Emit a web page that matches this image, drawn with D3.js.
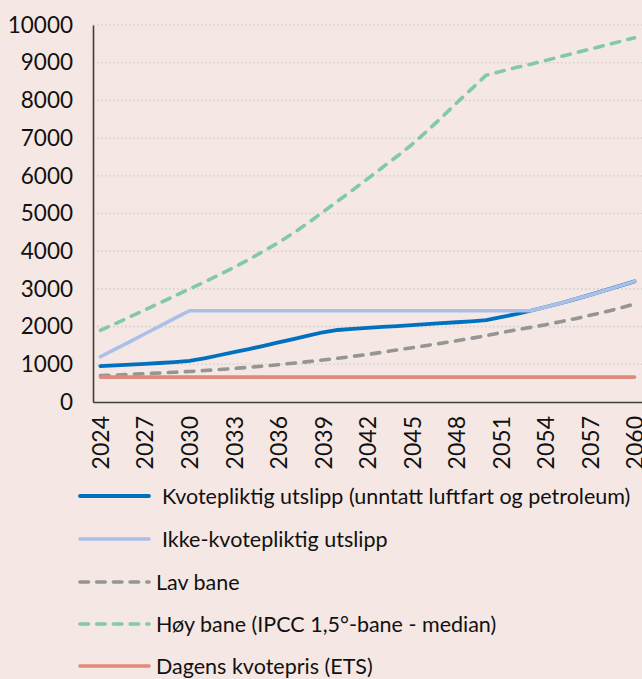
<!DOCTYPE html>
<html>
<head>
<meta charset="utf-8">
<script src="https://cdn.jsdelivr.net/npm/d3@7"></script>
<style>
  html, body { margin: 0; padding: 0; background: #f5e7e3; }
  svg { display: block; }
  text { font-family: Lato, "Noto Sans", sans-serif; fill: #111; }
</style>
</head>
<body>
<svg id="chart" width="642" height="679"></svg>
<script>
// Years on the category axis
const years = d3.range(2024, 2061);
const yearTicks = d3.range(2024, 2061, 3);
const yTicks = d3.range(0, 10001, 1000);

// Kvotepliktig utslipp (unntatt luftfart og petroleum)
const kvotepliktig = [950, 970, 990, 1010, 1035, 1060, 1090, 1160, 1240, 1320, 1400, 1490, 1580,
  1670, 1760, 1850, 1910, 1940, 1965, 1990, 2015, 2040, 2065, 2090, 2115, 2140, 2170,
  2250, 2330, 2420, 2520, 2620, 2730, 2840, 2960, 3080, 3200];
// Ikke-kvotepliktig utslipp
const ikkeKvotepliktig = [1200, 1400, 1600, 1810, 2010, 2220, 2420, 2420, 2420, 2420, 2420, 2420, 2420,
  2420, 2420, 2420, 2420, 2420, 2420, 2420, 2420, 2420, 2420, 2420, 2420, 2420, 2420,
  2420, 2420, 2420, 2520, 2620, 2730, 2840, 2960, 3080, 3200];
// Lav bane
const lavBane = [700, 715, 735, 750, 770, 790, 810, 835, 860, 890, 920, 955, 990,
  1030, 1070, 1115, 1160, 1210, 1260, 1320, 1380, 1440, 1500, 1560, 1625, 1690, 1760,
  1840, 1910, 1980, 2050, 2130, 2210, 2300, 2390, 2490, 2600];
// Høy bane (IPCC 1,5°-bane - median)
const hoyBane = [1900, 2080, 2260, 2440, 2630, 2810, 3000, 3180, 3370, 3570, 3780, 4000, 4230,
  4480, 4750, 5040, 5330, 5620, 5920, 6220, 6520, 6830, 7180, 7550, 7930, 8300, 8670,
  8770, 8870, 8960, 9060, 9160, 9260, 9360, 9460, 9560, 9660];
// Dagens kvotepris (ETS)
const dagensKvotepris = years.map(() => 660);

const seriesNames = [
  "Kvotepliktig utslipp (unntatt luftfart og petroleum)",
  "Ikke-kvotepliktig utslipp",
  "Lav bane",
  "Høy bane (IPCC 1,5°-bane - median)",
  "Dagens kvotepris (ETS)"
];
const seriesValues = [kvotepliktig, ikkeKvotepliktig, lavBane, hoyBane, dagensKvotepris];
const seriesColors = ["#0070c0", "#abc0e8", "#959595", "#82c9a5", "#df8a7a"];
const seriesDash = [null, null, "8.5,8.5", "8.5,8.5", null];
const seriesWidth = [3.8, 3.6, 3.6, 3.6, 3.6];

const svg = d3.select("#chart");
const plot = { left: 93, right: 642, top: 25, bottom: 402 };

const x = d3.scalePoint().domain(years).range([plot.left, plot.right]).padding(0.5);
const y = d3.scaleLinear().domain([0, 10000]).range([plot.bottom, plot.top]);

// Dotted horizontal gridlines
svg.append("g")
  .selectAll("line")
  .data(yTicks.filter(d => d > 0))
  .join("line")
  .attr("x1", plot.left).attr("x2", plot.right)
  .attr("y1", d => y(d)).attr("y2", d => y(d))
  .attr("stroke", "#d6d2d0")
  .attr("stroke-width", 1.6)
  .attr("stroke-dasharray", "1.6,2.4");

// Y axis
const yAxis = svg.append("g")
  .attr("transform", `translate(${plot.left},0)`)
  .call(d3.axisLeft(y).tickValues(yTicks).tickSize(0).tickPadding(20).tickFormat(d3.format("d")));
yAxis.select(".domain").attr("stroke", "#3d3d3d").attr("stroke-width", 1.6);
yAxis.selectAll("text")
  .style("font-family", "Lato, 'Noto Sans', sans-serif")
  .style("font-size", "22.5px")
  .attr("fill", "#111");

// X axis
const xAxis = svg.append("g")
  .attr("transform", `translate(0,${plot.bottom})`)
  .call(d3.axisBottom(x).tickValues(yearTicks).tickSize(0).tickFormat(d3.format("d")));
xAxis.select(".domain").attr("stroke", "#3d3d3d").attr("stroke-width", 1.6);
xAxis.selectAll("text")
  .style("font-family", "Lato, 'Noto Sans', sans-serif")
  .style("font-size", "23px")
  .attr("fill", "#111")
  .attr("text-anchor", "end")
  .attr("dy", "0.35em")
  .attr("transform", "translate(0,14) rotate(-90)")
  .attr("x", 0).attr("y", 0);

// Series lines
const line = d3.line().x((d, i) => x(years[i])).y(d => y(d));
svg.append("g")
  .selectAll("path")
  .data(seriesValues)
  .join("path")
  .attr("d", d => line(d))
  .attr("fill", "none")
  .attr("stroke", (d, i) => seriesColors[i])
  .attr("stroke-width", (d, i) => seriesWidth[i])
  .attr("stroke-dasharray", (d, i) => seriesDash[i])
  .attr("stroke-linecap", "round")
  .attr("stroke-linejoin", "round");

// Legend
const legendRows = [
  { y: 496, x1: 80, x2: 149, tx: 162 },
  { y: 539, x1: 80, x2: 149, tx: 162 },
  { y: 582, x1: 80, x2: 149, tx: 156 },
  { y: 624, x1: 80, x2: 149, tx: 156 },
  { y: 666, x1: 80, x2: 149, tx: 156 }
];
const legend = svg.append("g")
  .selectAll("g")
  .data(seriesNames)
  .join("g");
legend.append("line")
  .attr("x1", (d, i) => legendRows[i].x1)
  .attr("x2", (d, i) => legendRows[i].x2)
  .attr("y1", (d, i) => legendRows[i].y)
  .attr("y2", (d, i) => legendRows[i].y)
  .attr("stroke", (d, i) => seriesColors[i])
  .attr("stroke-width", (d, i) => seriesWidth[i])
  .attr("stroke-dasharray", (d, i) => seriesDash[i] ? "8.5,8.2" : null)
  .attr("stroke-linecap", "round");
legend.append("text")
  .attr("x", (d, i) => legendRows[i].tx)
  .attr("y", (d, i) => legendRows[i].y)
  .attr("dy", "0.35em")
  .style("font-size", "21.5px")
  .text(d => d);
</script>
</body>
</html>
